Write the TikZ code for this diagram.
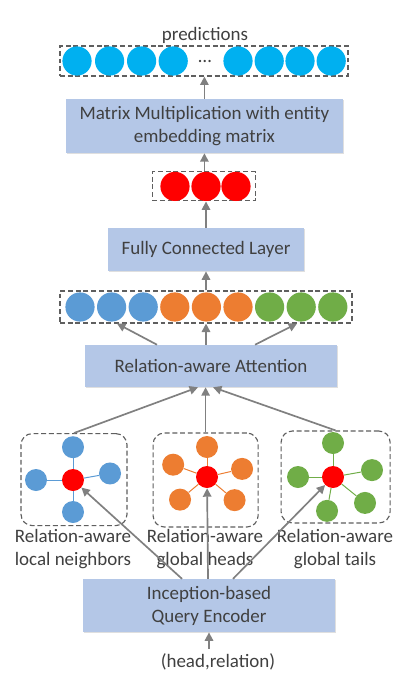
\documentclass[tikz,border=0pt]{standalone}
\usepackage{fontspec}
\setmainfont{Carlito}
\usetikzlibrary{arrows.meta, positioning, calc, shadows}
\definecolor{layerblue}{RGB}{180,199,231}
\definecolor{textgray}{RGB}{64,64,64}
\definecolor{arrowgray}{RGB}{128,128,128}
\definecolor{dashgray}{RGB}{95,95,95}
\definecolor{predcyan}{RGB}{0,176,240}
\definecolor{hubred}{RGB}{255,0,0}
\definecolor{nbblue}{RGB}{91,155,213}
\definecolor{headorange}{RGB}{237,125,49}
\definecolor{tailgreen}{RGB}{112,173,71}

\begin{document}
\begin{tikzpicture}[
    font=\fontsize{13.5}{16.3}\selectfont,
    text=textgray,
    layer/.style={fill=layerblue, text=textgray, align=center, inner sep=0pt,
        drop shadow={opacity=0.25, shadow xshift=0.8pt, shadow yshift=-0.8pt}},
    group/.style={draw=dashgray, fill=white, line width=0.8pt,
        dash pattern=on 3.5pt off 2pt, inner sep=0pt},
    neuron/.style={circle, fill=#1, inner sep=0pt, minimum size=0.73cm},
    gnode/.style={circle, fill=#1, inner sep=0pt, minimum size=0.55cm},
    caption/.style={align=center},
    flow/.style={-{Triangle[length=6pt,width=6pt]}, line width=1.2pt, draw=arrowgray}
]
    \fill[white] (0,0) rectangle (10.425,-17.175);
    \useasboundingbox (0,0) rectangle (10.425,-17.175);

    % Predictions
    \node (predlabel) at (5.125,-0.875) {predictions};
    \node[group, minimum width=7.2cm, minimum height=0.75cm] (pred) at (5.1,-1.525) {};
    \foreach \x in {1.925,2.74,3.54,4.33,5.95,6.73,7.5,8.28}
        \node[neuron=predcyan] at (\x,-1.525) {};
    \node (dots) at (5.125,-1.525) {\dots};

    % Matrix multiplication
    \node[layer, minimum width=6.925cm, minimum height=1.35cm] (matmul) at (5.11,-3.15)
        {Matrix Multiplication with entity\\embedding matrix};

    % Output of the fully connected layer
    \node[group, minimum width=2.575cm, minimum height=0.725cm] (fcout) at (5.09,-4.66) {};
    \foreach \x in {4.375,5.15,5.9}
        \node[neuron=hubred] at (\x,-4.66) {};

    % Fully connected layer
    \node[layer, minimum width=4.9cm, minimum height=1.075cm] (fc) at (5.15,-6.24) {Fully Connected Layer};

    % Concatenated vector
    \node[group, minimum width=7.3cm, minimum height=0.8cm] (concat) at (5.15,-7.675) {};
    \foreach \i/\c in {0/nbblue,1/nbblue,2/nbblue,3/headorange,4/headorange,5/headorange,6/tailgreen,7/tailgreen,8/tailgreen}
        \node[neuron=\c] at (2.0+0.79*\i,-7.675) {};

    % Attention
    \node[layer, minimum width=6.3cm, minimum height=1.05cm] (attn) at (5.275,-9.15) {Relation-aware Attention};

    % Neighbor graphs
    \node[group, rounded corners=8pt, minimum width=2.65cm, minimum height=2.3cm] (local) at (1.85,-11.99) {};
    \node[group, rounded corners=8pt, minimum width=2.625cm, minimum height=2.35cm] (heads) at (5.14,-12.0) {};
    \node[group, rounded corners=8pt, minimum width=2.725cm, minimum height=2.3cm] (tails) at (8.39,-11.925) {};

    % local neighbors
    \node[gnode=hubred] (lhub) at (1.825,-12.0) {};
    \foreach \a/\r [count=\k] in {90/0.82,180/0.925,10/0.94,270/0.8} {
        \node[gnode=nbblue] (l\k) at ($(lhub)+(\a:\r)$) {};
        \draw[nbblue, line width=0.7pt] (lhub) -- (l\k);
    }
    % global heads
    \node[gnode=hubred] (mhub) at (5.175,-11.925) {};
    \foreach \a/\r [count=\k] in {90/0.75,160/0.9,13/0.9,220/0.88,320/0.9} {
        \node[gnode=headorange] (m\k) at ($(mhub)+(\a:\r)$) {};
        \draw[headorange, line width=0.7pt] (mhub) -- (m\k);
    }
    % global tails
    \node[gnode=hubred] (rhub) at (8.325,-11.925) {};
    \foreach \a/\r [count=\k] in {90/0.85,180/0.875,10/0.99,321/1.03,260/0.86} {
        \node[gnode=tailgreen] (r\k) at ($(rhub)+(\a:\r)$) {};
        \draw[tailgreen, line width=0.7pt] (rhub) -- (r\k);
    }

    \node[caption] (locallabel) at (1.825,-13.725) {Relation-aware\\local neighbors};
    \node[caption] (headslabel) at (5.125,-13.725) {Relation-aware\\global heads};
    \node[caption] (tailslabel) at (8.375,-13.725) {Relation-aware\\global tails};

    % Query encoder
    \node[layer, minimum width=6.3cm, minimum height=1.325cm] (enc) at (5.225,-15.14)
        {Inception-based\\Query Encoder};
    \node (input) at (5.45,-16.55) {(head,relation)};

    % Arrows
    \draw[flow] (input.north -| enc) -- (enc.south);
    \draw[flow] ($(enc.north)+(-0.675,0)$) -- (lhub);
    \draw[flow] ($(enc.north)+(-0.025,0)$) -- (mhub);
    \draw[flow] ($(enc.north)+(0.6,0)$) -- (rhub);

    \draw[flow] (local.north) -- ($(attn.south)+(-0.325,0)$);
    \draw[flow] (heads.north) -- (heads.north |- attn.south);
    \draw[flow] (tails.north) -- ($(attn.south)+(0.05,0)$);

    \draw[flow] ($(attn.north)+(-1.35,0)$) -- ($(concat.south)+(-2.225,0)$);
    \draw[flow] (attn.north -| fc) -- (concat.south -| fc);
    \draw[flow] ($(attn.north)+(1.1,0)$) -- ($(concat.south)+(2.275,0)$);

    \draw[flow] (concat.north -| fc) -- (fc.south);
    \draw[flow] (fc.north) -- (fc.north |- fcout.south);
    \draw[flow] (fcout.north -| matmul) -- (matmul.south);
    \draw[flow] (matmul.north) -- (matmul.north |- pred.south);
\end{tikzpicture}
\end{document}
